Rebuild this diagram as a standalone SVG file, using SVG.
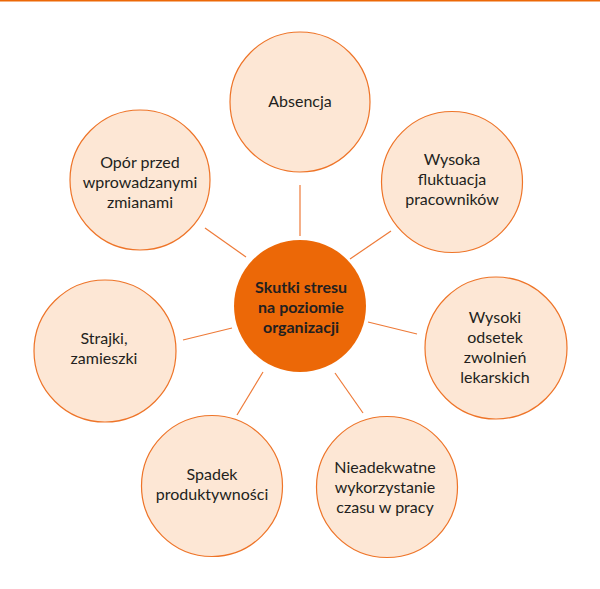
<svg xmlns="http://www.w3.org/2000/svg" width="600" height="589" viewBox="0 0 600 589">
<style>
.n{fill:#FDE7D5;stroke:#EE7428;stroke-width:1.2}
.c{fill:#EC6807}
.t{font-family:Lato,"Open Sans",sans-serif;font-size:16px;fill:#231F20;text-anchor:middle}
.b{font-family:Lato,"Open Sans",sans-serif;font-size:16px;font-weight:bold;fill:#231F20;text-anchor:middle}
.l{stroke:#EE7A38;stroke-width:1.2;fill:none}
</style>
<rect x="0" y="0" width="600" height="1.5" fill="#EC6807"/>
<g id="connectors">
<line class="l" x1="300" y1="185" x2="300" y2="236"/>
<line class="l" x1="391" y1="231" x2="350" y2="259"/>
<line class="l" x1="368" y1="322" x2="417" y2="334"/>
<line class="l" x1="335" y1="373" x2="363" y2="413"/>
<line class="l" x1="263" y1="372" x2="237" y2="415"/>
<line class="l" x1="232" y1="328" x2="183" y2="340"/>
<line class="l" x1="205" y1="228" x2="246" y2="257"/>
</g>
<g id="center">
<circle class="c" cx="300" cy="306" r="66"/>
<text class="b" x="301" y="293">Skutki stresu</text>
<text class="b" x="301" y="313">na poziomie</text>
<text class="b" x="301" y="333">organizacji</text>
</g>
<g id="absencja">
<circle class="n" cx="300" cy="102" r="70"/>
<text class="t" x="300" y="107">Absencja</text>
</g>
<g id="fluktuacja">
<circle class="n" cx="452" cy="182" r="70.5"/>
<text class="t" x="452" y="165">Wysoka</text>
<text class="t" x="452" y="185">fluktuacja</text>
<text class="t" x="452" y="205">pracowników</text>
</g>
<g id="zwolnienia">
<circle class="n" cx="496" cy="348" r="71"/>
<text class="t" x="495" y="323">Wysoki</text>
<text class="t" x="495" y="343">odsetek</text>
<text class="t" x="495" y="363">zwolnień</text>
<text class="t" x="495" y="383">lekarskich</text>
</g>
<g id="czas">
<circle class="n" cx="387" cy="487" r="70.5"/>
<text class="t" x="385" y="473">Nieadekwatne</text>
<text class="t" x="385" y="493">wykorzystanie</text>
<text class="t" x="385" y="513">czasu w pracy</text>
</g>
<g id="produktywnosc">
<circle class="n" cx="212" cy="486" r="70.5"/>
<text class="t" x="212" y="480">Spadek</text>
<text class="t" x="212" y="500">produktywności</text>
</g>
<g id="strajki">
<circle class="n" cx="105" cy="351" r="71"/>
<text class="t" x="104" y="344">Strajki,</text>
<text class="t" x="104" y="364">zamieszki</text>
</g>
<g id="opor">
<circle class="n" cx="140" cy="180" r="70"/>
<text class="t" x="140" y="168">Opór przed</text>
<text class="t" x="140" y="188">wprowadzanymi</text>
<text class="t" x="140" y="208">zmianami</text>
</g>
</svg>
